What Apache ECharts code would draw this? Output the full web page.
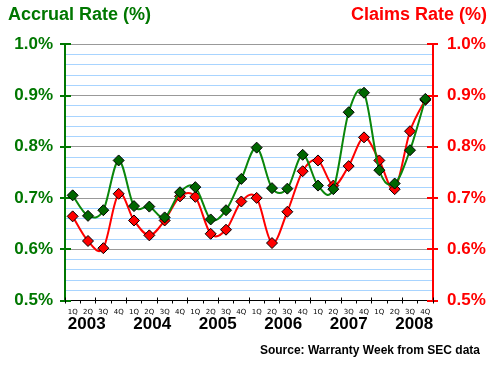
<!DOCTYPE html>
<html>
<head>
<meta charset="utf-8">
<script src="https://cdn.jsdelivr.net/npm/echarts@6/dist/echarts.min.js"></script>
<style>html,body{margin:0;padding:0;background:#fff}#c{width:500px;height:365px}</style>
</head>
<body>
<div id="c"></div>
<script>
const quarters = ['1Q','2Q','3Q','4Q','1Q','2Q','3Q','4Q','1Q','2Q','3Q','4Q','1Q','2Q','3Q','4Q','1Q','2Q','3Q','4Q','1Q','2Q','3Q','4Q'];
const years = ['2003','2004','2005','2006','2007','2008'];
const accrualRate = [0.705,0.665,0.676,0.773,0.684,0.683,0.662,0.711,0.721,0.658,0.676,0.737,0.798,0.719,0.718,0.784,0.724,0.717,0.867,0.905,0.754,0.728,0.793,0.893];
const claimsRate = [0.664,0.616,0.602,0.708,0.656,0.627,0.656,0.703,0.702,0.630,0.638,0.693,0.700,0.612,0.673,0.752,0.773,0.724,0.762,0.818,0.773,0.717,0.830,0.891];
const yTicks = {min:0.5, max:1.0, interval:0.1};

const GREEN = '#007700', RED = '#ff0000';
const FONT = 'Liberation Sans, Arial, sans-serif';
const fmt = v => v.toFixed(1) + '%';

// Catmull-Rom style spline segment through data points, positioned by the axes
function splineRenderer(arr, color) {
  return function (params, api) {
    const i = params.dataIndex, n = arr.length;
    if (i >= n - 1) return null;
    const c = j => { j = Math.max(0, Math.min(n - 1, j)); return api.coord([j, arr[j]]); };
    const p0 = c(i - 1), p1 = c(i), p2 = c(i + 1), p3 = c(i + 2);
    const t = 1 / 6;
    return {
      type: 'bezierCurve',
      shape: {
        x1: p1[0], y1: p1[1], x2: p2[0], y2: p2[1],
        cpx1: p1[0] + (p2[0] - p0[0]) * t, cpy1: p1[1] + (p2[1] - p0[1]) * t,
        cpx2: p2[0] - (p3[0] - p1[0]) * t, cpy2: p2[1] - (p3[1] - p1[1]) * t
      },
      style: { stroke: color, lineWidth: 2, fill: null }
    };
  };
}

const chart = echarts.init(document.getElementById('c'), null, {renderer:'canvas'});
const baseY = {
  type:'value', gridIndex:0, min:yTicks.min, max:yTicks.max, interval:yTicks.interval,
  splitLine:{show:false}, minorSplitLine:{show:false}
};
chart.setOption({
  animation:false,
  textStyle:{fontFamily:FONT},
  title:[
    {text:'Accrual Rate (%)', left:8, top:6, padding:0, textStyle:{color:GREEN, fontSize:18, fontWeight:'bold', fontFamily:FONT}},
    {text:'Claims Rate (%)', right:13, top:6, padding:0, textStyle:{color:RED, fontSize:18, fontWeight:'bold', fontFamily:FONT}},
    {text:'Source: Warranty Week from SEC data', right:20, top:345, padding:0, textStyle:{color:'#000', fontSize:12, fontWeight:'bold', fontFamily:FONT}}
  ],
  grid:[
    {left:65, right:67, top:44, bottom:64.5},
    {left:54, right:53, top:44, bottom:64.5}
  ],
  xAxis:[
    {type:'category', gridIndex:0, data:quarters, boundaryGap:true, position:'bottom',
     axisLine:{lineStyle:{color:'#000', width:1}},
     axisTick:{show:true, length:3, inside:false, lineStyle:{color:'#000'}},
     axisLabel:{interval:0, fontSize:7, color:'#000', margin:8, fontFamily:'DejaVu Sans'},
     splitLine:{show:false}},
    {type:'category', gridIndex:0, data:quarters, boundaryGap:true, position:'bottom',
     axisLine:{show:false},
     axisTick:{show:true, length:3, inside:true, lineStyle:{color:'#000'}},
     axisLabel:{show:false}, splitLine:{show:false}},
    {type:'category', gridIndex:1, data:years, boundaryGap:true, position:'bottom',
     axisLine:{show:false}, axisTick:{show:false},
     axisLabel:{interval:0, fontSize:17, fontWeight:'bold', color:'#000', margin:15, fontFamily:FONT},
     splitLine:{show:false}}
  ],
  yAxis:[
    Object.assign({}, baseY, {position:'left',
      axisLine:{show:false}, axisTick:{show:false}, axisLabel:{show:false},
      splitLine:{show:true, lineStyle:{color:'#999999', width:1}},
      minorTick:{show:false, splitNumber:5},
      minorSplitLine:{show:true, lineStyle:{color:'#a8d4ff', width:1}}, z:0}),
    Object.assign({}, baseY, {position:'left',
      axisLine:{show:true, lineStyle:{color:GREEN, width:2}},
      axisTick:{show:true, length:5, lineStyle:{color:GREEN, width:2}},
      axisLabel:{formatter:fmt, color:GREEN, fontSize:17, fontWeight:'bold', margin:12, fontFamily:FONT}}),
    Object.assign({}, baseY, {position:'left',
      axisLine:{show:false},
      axisTick:{show:true, inside:true, length:6, lineStyle:{color:GREEN, width:2}},
      axisLabel:{show:false}}),
    Object.assign({}, baseY, {position:'right',
      axisLine:{show:true, lineStyle:{color:RED, width:2}},
      axisTick:{show:true, length:5, lineStyle:{color:RED, width:2}},
      axisLabel:{formatter:fmt, color:RED, fontSize:17, fontWeight:'bold', margin:14, fontFamily:FONT}}),
    Object.assign({}, baseY, {position:'right',
      axisLine:{show:false},
      axisTick:{show:true, inside:true, length:6, lineStyle:{color:RED, width:2}},
      axisLabel:{show:false}}),
    {type:'value', gridIndex:1, min:0, max:1, show:false}
  ],
  series:[
    {name:'Claims curve', type:'custom', xAxisIndex:0, yAxisIndex:3,
     data:claimsRate.map((v,i)=>[i,v]), renderItem:splineRenderer(claimsRate, RED), z:2, silent:true},
    {name:'Claims Rate', type:'line', xAxisIndex:0, yAxisIndex:3, data:claimsRate,
     lineStyle:{opacity:0, width:0}, symbol:'diamond', symbolSize:11,
     itemStyle:{color:RED, borderColor:'#000', borderWidth:1}, z:3},
    {name:'Accrual curve', type:'custom', xAxisIndex:0, yAxisIndex:1,
     data:accrualRate.map((v,i)=>[i,v]), renderItem:splineRenderer(accrualRate, '#0a860a'), z:4, silent:true},
    {name:'Accrual Rate', type:'line', xAxisIndex:0, yAxisIndex:1, data:accrualRate,
     lineStyle:{opacity:0, width:0}, symbol:'diamond', symbolSize:11,
     itemStyle:{color:'#006600', borderColor:'#000', borderWidth:1}, z:5}
  ]
});
</script>
</body>
</html>
